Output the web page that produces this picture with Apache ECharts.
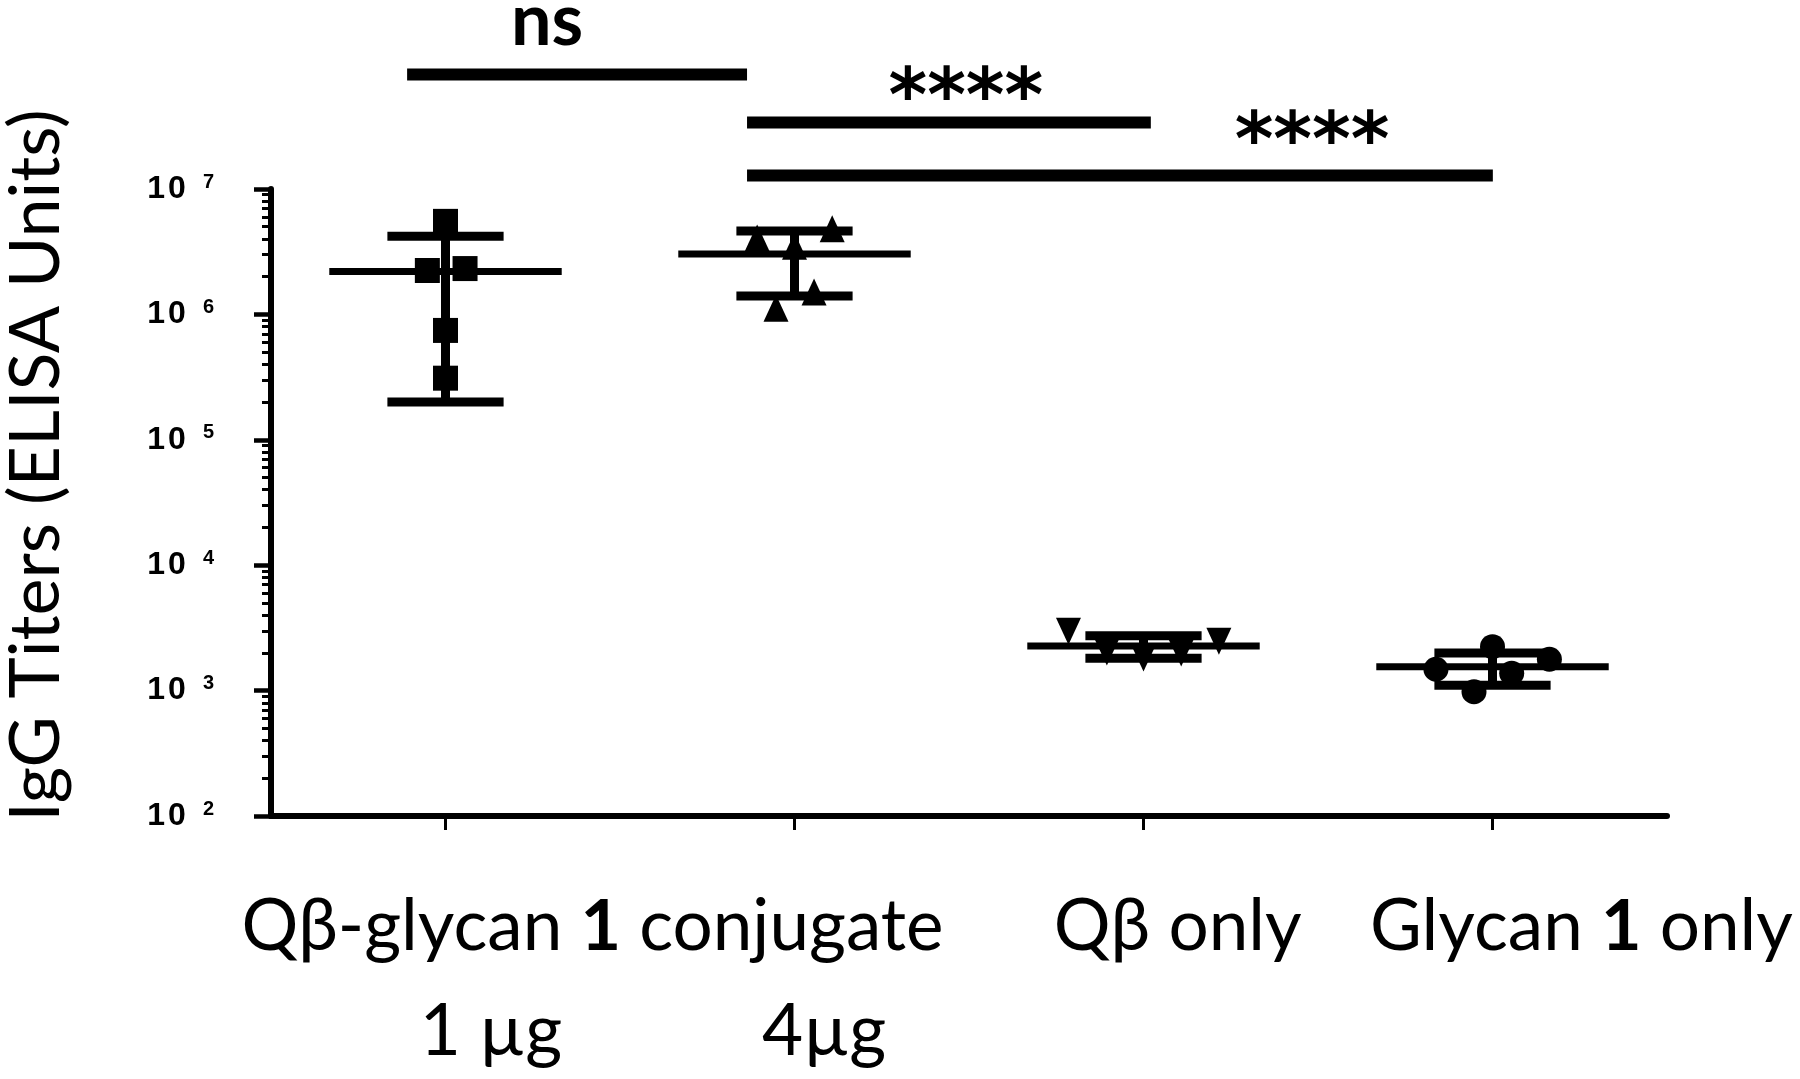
<!DOCTYPE html>
<html>
<head>
<meta charset="utf-8">
<script src="https://cdn.jsdelivr.net/npm/echarts@6/dist/echarts.min.js"></script>
<style>
html, body { margin: 0; padding: 0; background: #fff; }
#main { width: 1800px; height: 1079px; }
</style>
</head>
<body>
<div id="main"></div>
<script>
// 分组
const categories = ['Qβ-glycan 1 conjugate 1 µg', 'Qβ-glycan 1 conjugate 4µg', 'Qβ only', 'Glycan 1 only'];
const yTicks = [1e2, 1e3, 1e4, 1e5, 1e6, 1e7];
const xTicks = [0, 1, 2, 3];

// 每组的点 (x = 组号 + 抖动)
const squareX = [0, -0.052, 0.056, 0, 0];
const squareY = [5.52e6, 2.24e6, 2.32e6, 7.45e5, 3.1e5];
const triX = [0.893, 1.0, 1.108, 1.056, 0.947];
const triY = [4.07e6, 3.49e6, 4.81e6, 1.51e6, 1.12e6];
const invX = [1.785, 1.895, 2.0, 2.108, 2.216];
const invY = [2972, 2032, 1820, 1995, 2473];
const dotX = [2.838, 3.0, 2.947, 3.055, 3.163];
const dotY = [1479, 2240, 980, 1374, 1778];

// 均值 + 误差线
const means = [2.2e6, 3.03e6, 2270, 1552];
const upper = [4.19e6, 4.63e6, 2742, 1995];
const lower = [2.0e5, 1.40e6, 1811, 1102];

// 显著性标注
const sigFrom = [-0.11, 0.864, 0.864];
const sigTo = [0.864, 2.021, 3.001];
const sigLevel = [8.2e7, 3.39e7, 1.28e7];
const sigText = ['ns', '****', '****'];
const sigTextX = [0.291, 1.491, 2.483];
const sigTextY = [2.17e8, 5.0e7, 2.2e7];

// x轴文字
const xLabelTop = ['Qβ-glycan {b|1} conjugate', 'Qβ only', 'Glycan {b|1} only'];
const xLabelTopAt = [0.421, 2.098, 3.255];
const xLabelSub = ['1 µg', '4µg'];
const xLabelSubAt = [0.130, 1.085];

// 对数副刻度
const minorTicks = [];
for (let e = 2; e < 7; e++) {
	for (let k = 2; k <= 9; k++) minorTicks.push(k * Math.pow(10, e));
}

function pts(xs, ys) {
	return xs.map((x, i) => [x, ys[i]]);
}

function renderErr(params, api) {
	const x = api.value(0);
	const m = api.coord([x, api.value(1)]);
	const hi = api.coord([x, api.value(2)]);
	const lo = api.coord([x, api.value(3)]);
	const mw = api.coord([x + 0.333, api.value(1)])[0] - m[0];
	const cw = mw * 0.5;
	return {
		type: 'group',
		children: [
			{ type: 'line', shape: { x1: m[0], y1: hi[1], x2: m[0], y2: lo[1] }, style: { stroke: '#000', lineWidth: 9 } },
			{ type: 'line', shape: { x1: m[0] - cw, y1: hi[1], x2: m[0] + cw, y2: hi[1] }, style: { stroke: '#000', lineWidth: 9 } },
			{ type: 'line', shape: { x1: m[0] - cw, y1: lo[1], x2: m[0] + cw, y2: lo[1] }, style: { stroke: '#000', lineWidth: 9 } },
			{ type: 'line', shape: { x1: m[0] - mw, y1: m[1], x2: m[0] + mw, y2: m[1] }, style: { stroke: '#000', lineWidth: 7 } }
		]
	};
}

function renderSig(params, api) {
	const i = params.dataIndex;
	const a = api.coord([sigFrom[i], sigLevel[i]]);
	const b = api.coord([sigTo[i], sigLevel[i]]);
	const t = api.coord([sigTextX[i], sigTextY[i]]);
	const star = sigText[i] !== 'ns';
	return {
		type: 'group',
		children: [
			{ type: 'line', shape: { x1: a[0], y1: a[1], x2: b[0], y2: b[1] }, style: { stroke: '#000', lineWidth: 12 } },
			{ type: 'text', x: t[0], y: t[1], style: {
				text: sigText[i], fill: '#000',
				fontFamily: star ? 'DejaVu Sans' : 'Lato', fontWeight: 'bold',
				fontSize: star ? 74 : 72, align: 'center', verticalAlign: 'middle'
			} }
		]
	};
}

const scatterBase = { type: 'scatter', xAxisIndex: 1, yAxisIndex: 0, itemStyle: { color: '#000', opacity: 1 }, z: 5 };

const option = {
	backgroundColor: '#fff',
	animation: false,
	grid: { left: 271, right: 133, top: 189, bottom: 263, containLabel: false, outerBoundsMode: 'none' },
	xAxis: [{
		type: 'category',
		data: categories,
		axisLine: { onZero: false, lineStyle: { color: '#000', width: 6 } },
		axisTick: { show: false },
		axisLabel: { show: false },
		splitLine: { show: false }
	}, {
		// 隐藏的数值轴, 只画刻度
		type: 'value', min: -0.5, max: 3.5, position: 'bottom',
		axisLine: { show: false, onZero: false },
		axisTick: { show: true, length: 14, lineStyle: { color: '#000', width: 3 }, customValues: xTicks },
		axisLabel: { show: false },
		splitLine: { show: false }
	}],
	yAxis: [{
		type: 'log', logBase: 10, min: 100, max: 1e7,
		name: 'IgG Titers (ELISA Units)',
		nameLocation: 'middle',
		nameGap: 200,
		nameTextStyle: { fontFamily: 'Lato', fontSize: 70, color: '#000', padding: [0, 0, 0, 74] },
		axisLine: { show: true, onZero: false, lineStyle: { color: '#000', width: 6 } },
		axisTick: { show: true, length: 17, lineStyle: { color: '#000', width: 4.5 }, customValues: yTicks },
		axisLabel: {
			margin: 57,
			fontFamily: 'Liberation Sans', fontWeight: 'bold', fontSize: 32, color: '#000',
			customValues: yTicks,
			formatter: v => '{n|1}{m|0}{s|' + Math.round(Math.log10(v)) + '}',
			rich: {
				n: { fontFamily: 'Liberation Sans', fontWeight: 'bold', fontSize: 32, color: '#000', lineHeight: 34 },
				m: { fontFamily: 'Liberation Sans', fontWeight: 'bold', fontSize: 32, color: '#000', lineHeight: 34, padding: [0, 0, 0, 3] },
				s: { fontFamily: 'Liberation Sans', fontWeight: 'bold', fontSize: 20, color: '#000', lineHeight: 20, verticalAlign: 'top', padding: [0, 0, 0, 17] }
			}
		},
		splitLine: { show: false }
	}, {
		type: 'log', logBase: 10, min: 100, max: 1e7, position: 'left',
		axisLine: { show: false, onZero: false },
		axisTick: { show: true, length: 9, lineStyle: { color: '#000', width: 3 }, customValues: minorTicks },
		axisLabel: { show: false },
		splitLine: { show: false }
	}],
	series: [
		{ type: 'custom', name: 'err', xAxisIndex: 1, yAxisIndex: 0, renderItem: renderErr, z: 3,
			data: means.map((m, i) => [i, m, upper[i], lower[i]]) },
		{ type: 'custom', name: 'sig', xAxisIndex: 1, yAxisIndex: 0, renderItem: renderSig, clip: false, silent: true,
			data: sigLevel.map((v, i) => [sigFrom[i], v]) },
		Object.assign({}, scatterBase, { name: categories[0], symbol: 'rect', symbolSize: 25, data: pts(squareX, squareY) }),
		Object.assign({}, scatterBase, { name: categories[1], symbol: 'triangle', symbolSize: [25, 27], data: pts(triX, triY) }),
		Object.assign({}, scatterBase, { name: categories[2], symbol: 'triangle', symbolRotate: 180, symbolSize: [25, 27], data: pts(invX, invY) }),
		Object.assign({}, scatterBase, { name: categories[3], symbol: 'circle', symbolSize: 25, data: pts(dotX, dotY) })
	]
};

const chart = echarts.init(document.getElementById('main'));
chart.setOption(option);

// x轴下方的文字
const px = v => chart.convertToPixel({ xAxisIndex: 1 }, v);
const labelRich = { b: { fontFamily: 'Lato', fontWeight: 'bold', fontSize: 70, fill: '#000', color: '#000' } };
const graphics = [];
xLabelTop.forEach((t, i) => {
	graphics.push({ type: 'text', x: px(xLabelTopAt[i]), y: 927, style: {
		text: t, fill: '#000', fontFamily: 'Lato', fontSize: 71, align: 'center', verticalAlign: 'middle', rich: labelRich
	} });
});
xLabelSub.forEach((t, i) => {
	graphics.push({ type: 'text', x: px(xLabelSubAt[i]), y: 1032, style: {
		text: t, fill: '#000', fontFamily: 'Lato', fontSize: 71, align: 'center', verticalAlign: 'middle'
	} });
});
chart.setOption({ graphic: graphics });
</script>
</body>
</html>
